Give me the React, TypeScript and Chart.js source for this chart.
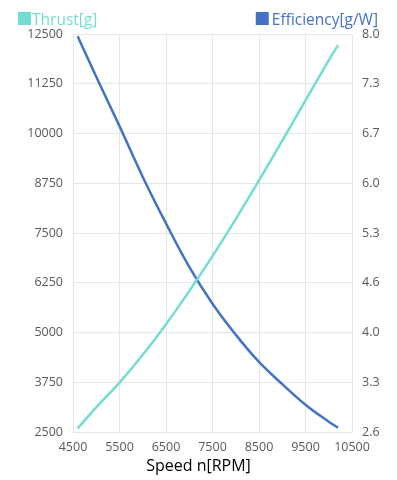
import React, { useEffect, useRef } from 'react';
import { Chart, registerables } from 'chart.js';

Chart.register(...registerables);

// Data
const rpm = [4600, 5000, 5500, 6000, 6500, 7000, 7500, 8000, 8500, 9000, 9500, 10000, 10200];
const thrust = [2590, 3120, 3740, 4440, 5210, 6040, 6920, 7850, 8820, 9820, 10830, 11840, 12220];
const efficiency = [7.97, 7.42, 6.75, 6.06, 5.43, 4.84, 4.34, 3.92, 3.55, 3.25, 2.97, 2.74, 2.66];
const legendLabels = ['Thrust[g]', 'Efficiency[g/W]'];
const xTitle = 'Speed n[RPM]';

const FONT = '"Open Sans", "Noto Sans", sans-serif';
const thrustColor = '#74DDD1';
const effColor = '#4472C4';
const gridColor = '#E6E6E6';
const tickColor = '#595959';

const cornerLegend = {
  id: 'cornerLegend',
  afterDraw(chart: any) {
    const ctx = chart.ctx;
    ctx.save();
    ctx.font = `15.5px ${FONT}`;
    ctx.textBaseline = 'alphabetic';
    ctx.fillStyle = thrustColor;
    ctx.fillRect(18, 12, 13, 13);
    ctx.textAlign = 'left';
    ctx.fillText(legendLabels[0], 32, 25);
    const w = ctx.measureText(legendLabels[1]).width;
    ctx.fillStyle = effColor;
    ctx.textAlign = 'right';
    ctx.fillText(legendLabels[1], 378, 25);
    ctx.fillRect(378 - w - 16, 12, 13, 13);
    // x axis title, centred on the whole figure
    ctx.font = `16px ${FONT}`;
    ctx.fillStyle = '#000';
    ctx.textAlign = 'center';
    ctx.fillText(xTitle, chart.width / 2, 471);
    ctx.restore();
  },
};

export default function App() {
  const ref = useRef<HTMLCanvasElement>(null);
  useEffect(() => {
    const chart = new Chart(ref.current as HTMLCanvasElement, {
      type: 'line',
      data: {
        datasets: [
          {
            label: legendLabels[0],
            data: rpm.map((x, i) => ({ x, y: thrust[i] })),
            borderColor: thrustColor,
            backgroundColor: thrustColor,
            borderWidth: 2.5,
            pointRadius: 0,
            tension: 0.4,
            yAxisID: 'y',
          },
          {
            label: legendLabels[1],
            data: rpm.map((x, i) => ({ x, y: efficiency[i] })),
            borderColor: effColor,
            backgroundColor: effColor,
            borderWidth: 2.5,
            pointRadius: 0,
            tension: 0.4,
            yAxisID: 'y1',
          },
        ],
      },
      options: {
        animation: false,
        responsive: true,
        maintainAspectRatio: false,
        layout: { padding: { top: 34, left: 0, right: 0, bottom: 0 } },
        plugins: {
          legend: { display: false },
          tooltip: { enabled: false },
        },
        scales: {
          x: {
            type: 'linear',
            min: 4500,
            max: 10500,
            ticks: {
              stepSize: 1000,
              callback: (v: any) => String(v),
              color: tickColor,
              font: { size: 12.5, family: FONT },
              padding: 8,
              maxRotation: 0,
            },
            grid: { color: gridColor, drawTicks: false, lineWidth: 1 },
            border: { color: gridColor },
            title: { display: false },
            afterFit(s: any) {
              s.height = 48;
            },
          },
          y: {
            position: 'left',
            min: 2500,
            max: 12500,
            ticks: {
              stepSize: 1250,
              callback: (v: any) => String(v),
              color: tickColor,
              font: { size: 12.5, family: FONT },
              padding: 10,
            },
            grid: { color: gridColor, drawTicks: false },
            border: { color: gridColor },
            afterFit(s: any) {
              s.width = 73;
            },
          },
          y1: {
            position: 'right',
            min: 2.6,
            max: 8.0,
            ticks: {
              stepSize: 0.675,
              callback: (v: any) => Number(v).toFixed(1),
              color: tickColor,
              font: { size: 12.5, family: FONT },
              padding: 10,
            },
            grid: { display: false, drawTicks: false },
            border: { color: gridColor },
            afterFit(s: any) {
              s.width = 45;
            },
          },
        },
      },
      plugins: [cornerLegend],
    } as any);
    return () => chart.destroy();
  }, []);
  return (
    <div style={{ position: 'absolute', left: 0, top: 0, width: 397, height: 480, background: '#fff' }}>
      <canvas ref={ref} />
    </div>
  );
}
